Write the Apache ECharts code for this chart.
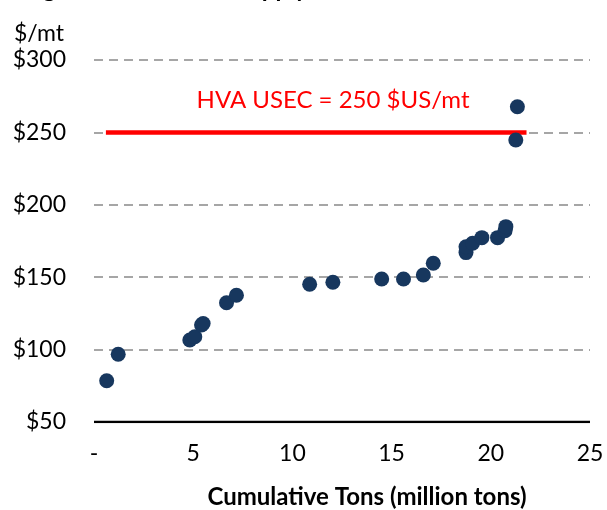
<!DOCTYPE html>
<html><head><meta charset="utf-8">
<script src="https://cdn.jsdelivr.net/npm/echarts@6/dist/echarts.min.js"></script>
<style>html,body{margin:0;padding:0;background:#fff}#c{width:607px;height:510px}</style>
</head><body><div id="c"></div>
<script>
const titleText = "Figure 1: Estimated Supply Curve for HVA Producers";
const yAxisUnit = "$/mt";
const xAxisName = "Cumulative Tons (million tons)";
const cumulativeTons = [0.64, 1.22, 4.83, 5.08, 5.42, 5.5, 6.68, 7.18, 10.87, 12.04, 14.5, 15.6, 16.6, 17.1, 18.75, 18.75, 19.08, 19.55, 20.34, 20.72, 20.76, 21.26, 21.34];
const costPerTon   = [78.5, 96.8, 106.6, 108.9, 117, 118, 132.4, 137.5, 145.1, 146.5, 148.8, 148.8, 151.5, 159.6, 167, 171, 173.4, 177.3, 177.3, 182.1, 184.9, 244.8, 267.7];
const usecValue = 250;
const usecStartEnd = [0.6, 21.8];
const usecLabel = "HVA USEC = 250 $US/mt";
const xTicks = [0, 5, 10, 15, 20, 25];
const yTicks = [50, 100, 150, 200, 250, 300];

const font = "Lato, 'Open Sans', sans-serif";
const chart = echarts.init(document.getElementById('c'));
chart.setOption({
  animation: false,
  textStyle: { fontFamily: font },
  title: { text: titleText, left: 'center', top: -28, textStyle: { fontSize: 24, fontWeight: 'bold', color: '#000', fontFamily: font } },
  grid: { left: 94, right: 17, top: 60, bottom: 88 },
  xAxis: {
    type: 'value', min: xTicks[0], max: xTicks[xTicks.length - 1], interval: 5,
    axisLine: { show: false }, axisTick: { show: false }, splitLine: { show: false },
    axisLabel: { fontSize: 23, color: '#000', margin: 20, formatter: v => v === 0 ? '-' : String(v) }
  },
  yAxis: {
    type: 'value', min: yTicks[0], max: yTicks[yTicks.length - 1], interval: 50,
    axisLine: { show: false }, axisTick: { show: false },
    splitLine: { show: true, lineStyle: { color: '#a6a6a6', type: [9, 6], width: 2 } },
    axisLabel: { fontSize: 23, color: '#000', margin: 28, formatter: v => '$' + v }
  },
  series: [
    {
      type: 'line', data: [[0, 50], [25, 50]], symbol: 'none', silent: true,
      lineStyle: { color: '#000', width: 2.5 }, z: 1
    },
    {
      type: 'line', data: [[usecStartEnd[0], usecValue], [usecStartEnd[1], usecValue]],
      symbol: 'none', lineStyle: { color: '#ff0000', width: 4.5 }, z: 2
    },
    {
      type: 'scatter', data: cumulativeTons.map((x, i) => [x, costPerTon[i]]),
      symbolSize: 15, itemStyle: { color: '#17375e', opacity: 1 }, z: 5
    }
  ]
});
const p = chart.convertToPixel({ gridIndex: 0 }, [12.05, usecValue]);
chart.setOption({
  graphic: [
    { type: 'text', left: 14, top: 22, style: { text: yAxisUnit, font: "23px " + font, fill: '#000' } },
    { type: 'text', x: 367, y: 497, style: { text: xAxisName, font: "bold 24px " + font, fill: '#000', align: 'center', verticalAlign: 'middle' } },
    { type: 'text', x: p[0], y: p[1] - 20, style: { text: usecLabel, font: "24px " + font, fill: '#ff0000', align: 'center', verticalAlign: 'bottom' } }
  ]
});
</script></body></html>
